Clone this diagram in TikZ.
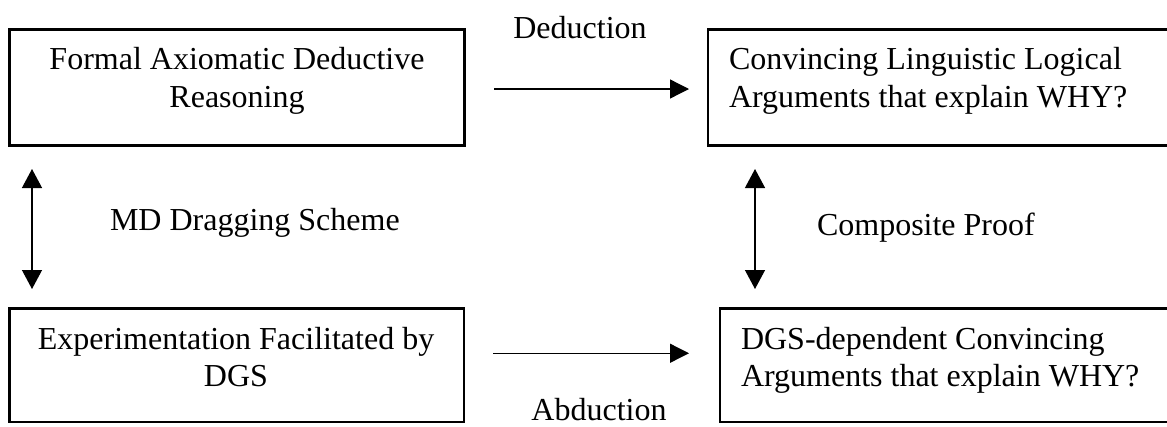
\documentclass[tikz,border=0pt]{standalone}
\usepackage{fontspec}
\setmainfont{Liberation Serif}
\usetikzlibrary{arrows.meta}
\begin{document}
\begin{tikzpicture}[x=1pt,y=-1pt,
  box/.style={draw=black, line width=2.7pt, inner sep=0pt, outer sep=0pt, fill=none},
  txt/.style={inner sep=0pt, outer sep=0pt, font=\fontsize{32}{38}\selectfont},
  conn/.style={line width=1.3pt, -{Triangle[length=19pt,width=19pt]}},
  dconn/.style={line width=1.3pt, {Triangle[length=19pt,width=20pt]}-{Triangle[length=19pt,width=20pt]}}]
\useasboundingbox (0,0) rectangle (1167,426);
% boxes
\node[box, minimum width=455pt, minimum height=116pt] (tl) at (237,87.5) {};
\node[box, minimum width=484pt, minimum height=116pt] (tr) at (950,87.5) {};
\node[box, minimum width=454.5pt, minimum height=113.5pt] (bl) at (236.75,365.25) {};
\node[box, minimum width=472pt, minimum height=113.5pt] (br) at (956,365.25) {};
% box texts
\node[txt, anchor=base] (tl1) at (237,69) {Formal Axiomatic Deductive};
\node[txt, anchor=base] (tl2) at (237,107) {Reasoning};
\node[txt, anchor=base west] (tr1) at (729,69) {Convincing Linguistic Logical};
\node[txt, anchor=base west] (tr2) at (729,107) {Arguments that explain WHY?};
\node[txt, anchor=base] (bl1) at (236,349) {Experimentation Facilitated by};
\node[txt, anchor=base] (bl2) at (236,386) {DGS};
\node[txt, anchor=base west] (br1) at (741,349.5) {DGS-dependent Convincing};
\node[txt, anchor=base west] (br2) at (741,386.5) {Arguments that explain WHY?};
% connector labels
\node[txt, anchor=base] (ded) at (580,38) {Deduction};
\node[txt, anchor=base] (abd) at (599,420) {Abduction};
\node[txt, anchor=base west] (md) at (110,230) {MD Dragging Scheme};
\node[txt, anchor=base west] (cp) at (817,235) {Composite Proof};
% connectors
\draw[conn, shorten <=29.5pt, shorten >=19pt] ([yshift=-1.5pt]tl.east) -- ([yshift=-1.5pt]tr.west);
\draw[conn, shorten <=29pt, shorten >=31pt] ([yshift=12pt]bl.east) -- ([yshift=12pt]br.west);
\draw[dconn, shorten <=23.5pt, shorten >=19.5pt] ([xshift=22.5pt]tl.south west) -- ([xshift=22.5pt]tl.south west |- bl.north);
\draw[dconn, shorten <=23.5pt, shorten >=19.5pt] ([xshift=47pt]tr.south west) -- ([xshift=47pt]tr.south west |- br.north);
\end{tikzpicture}
\end{document}
